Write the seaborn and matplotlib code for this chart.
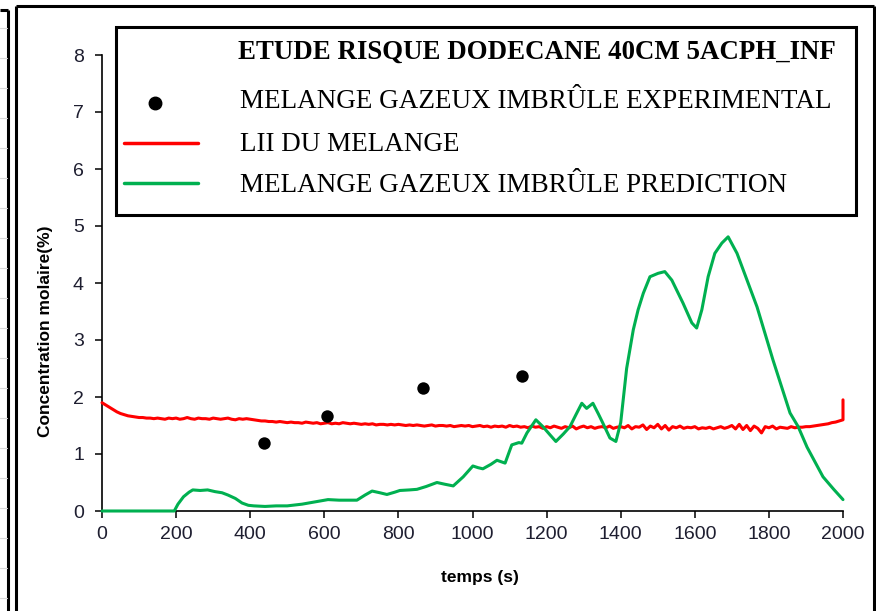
import matplotlib
matplotlib.use("Agg")
import matplotlib.pyplot as plt
from matplotlib.lines import Line2D
from matplotlib.patches import Rectangle
import pandas as pd
import seaborn as sns

# ---- data -------------------------------------------------------------
# Experimental unburnt gas mixture (time s, molar concentration %)
exp_time = [437, 607, 866, 1133]
exp_conc = [1.19, 1.67, 2.16, 2.37]

# Lower inflammability limit of the mixture, sampled every 10 s (+ end jump)
lii_time = list(range(0, 2001, 10)) + [2000]
lii_conc = [
    1.90, 1.86, 1.82, 1.78, 1.74, 1.71, 1.69, 1.67, 1.66, 1.65,
    1.64, 1.64, 1.63, 1.63, 1.62, 1.63, 1.62, 1.61, 1.63, 1.62,
    1.63, 1.61, 1.62, 1.64, 1.62, 1.61, 1.63, 1.62, 1.62, 1.61,
    1.63, 1.62, 1.61, 1.62, 1.63, 1.61, 1.60, 1.62, 1.61, 1.62,
    1.61, 1.60, 1.59, 1.58, 1.58, 1.57, 1.57, 1.56, 1.57, 1.56,
    1.55, 1.56, 1.55, 1.55, 1.54, 1.56, 1.55, 1.54, 1.55, 1.53,
    1.54, 1.55, 1.53, 1.54, 1.53, 1.55, 1.54, 1.53, 1.54, 1.53,
    1.52, 1.53, 1.52, 1.53, 1.51, 1.52, 1.52, 1.51, 1.52, 1.51,
    1.52, 1.51, 1.50, 1.51, 1.50, 1.51, 1.50, 1.49, 1.50, 1.51,
    1.49, 1.50, 1.50, 1.49, 1.50, 1.48, 1.49, 1.50, 1.49, 1.50,
    1.48, 1.49, 1.50, 1.48, 1.49, 1.47, 1.49, 1.48, 1.49, 1.47,
    1.50, 1.48, 1.49, 1.47, 1.48, 1.46, 1.49, 1.47, 1.48, 1.45,
    1.48, 1.46, 1.49, 1.47, 1.45, 1.48, 1.46, 1.49, 1.44, 1.47,
    1.49, 1.46, 1.48, 1.45, 1.47, 1.48, 1.46, 1.49, 1.45, 1.47,
    1.48, 1.46, 1.50, 1.44, 1.48, 1.47, 1.51, 1.43, 1.49, 1.46,
    1.52, 1.44, 1.50, 1.42, 1.48, 1.46, 1.49, 1.45, 1.47, 1.46,
    1.48, 1.44, 1.46, 1.45, 1.47, 1.44, 1.46, 1.48, 1.45, 1.47,
    1.50, 1.44, 1.52, 1.43, 1.50, 1.41, 1.49, 1.45, 1.37, 1.48,
    1.46, 1.49, 1.44, 1.47, 1.46, 1.45, 1.48, 1.46, 1.47, 1.47,
    1.48, 1.48, 1.49, 1.50, 1.51, 1.52, 1.53, 1.55, 1.56, 1.58,
    1.60, 1.95,
]

# Predicted unburnt gas mixture
pred_time = [
    0, 195, 205, 220, 235, 245, 265, 285, 305, 324,
    340, 360, 378, 395, 410, 440, 470, 500, 540, 575,
    610, 640, 670, 688, 710, 729, 750, 769, 790, 804,
    830, 850, 875, 904, 925, 948, 975, 1001, 1015, 1028,
    1050, 1066, 1088, 1106, 1125, 1133, 1147, 1171, 1190, 1210,
    1225, 1245, 1263, 1280, 1295, 1308, 1325, 1340, 1352, 1371,
    1387, 1400, 1416, 1434, 1447, 1461, 1479, 1501, 1519, 1538,
    1568, 1592, 1605, 1619, 1636, 1654, 1673, 1690, 1714, 1741,
    1768, 1811, 1857, 1879, 1903, 1946, 1975, 2000,
]
pred_conc = [
    0.00, 0.00, 0.12, 0.25, 0.33, 0.37, 0.36, 0.37, 0.34, 0.32,
    0.28, 0.22, 0.14, 0.10, 0.09, 0.08, 0.09, 0.09, 0.12, 0.16,
    0.20, 0.19, 0.19, 0.19, 0.28, 0.35, 0.32, 0.29, 0.33, 0.36,
    0.37, 0.38, 0.43, 0.50, 0.47, 0.44, 0.60, 0.79, 0.76, 0.74,
    0.82, 0.89, 0.84, 1.16, 1.20, 1.19, 1.37, 1.60, 1.48, 1.33,
    1.22, 1.35, 1.48, 1.70, 1.89, 1.80, 1.89, 1.70, 1.54, 1.28,
    1.22, 1.55, 2.50, 3.18, 3.53, 3.82, 4.11, 4.17, 4.20, 4.05,
    3.65, 3.30, 3.21, 3.53, 4.11, 4.52, 4.70, 4.81, 4.52, 4.05,
    3.58, 2.65, 1.72, 1.48, 1.12, 0.60, 0.38, 0.20,
]

x_ticks = [0, 200, 400, 600, 800, 1000, 1200, 1400, 1600, 1800, 2000]
y_ticks = [0, 1, 2, 3, 4, 5, 6, 7, 8]

legend_title = "ETUDE RISQUE DODECANE 40CM 5ACPH_INF"
label_exp = "MELANGE GAZEUX IMBRÛLE EXPERIMENTAL"
label_lii = "LII DU MELANGE"
label_pred = "MELANGE GAZEUX IMBRÛLE PREDICTION"

RED = "#FF0000"
GREEN = "#00B050"

# ---- figure -----------------------------------------------------------
sns.set_theme(style="white")
plt.rcParams["font.family"] = ["Liberation Sans", "DejaVu Sans"]

W, H = 876, 611
fig = plt.figure(figsize=(W / 100, H / 100), dpi=100)
fig.patch.set_facecolor("white")


def fx(px):
    return px / W


def fy(py):
    return 1 - py / H


ax = fig.add_axes([fx(102), fy(511), fx(843) - fx(102), fy(55) - fy(511)])
ax.set_facecolor("white")

lii_df = pd.DataFrame({"t": lii_time, "c": lii_conc})
pred_df = pd.DataFrame({"t": pred_time, "c": pred_conc})
exp_df = pd.DataFrame({"t": exp_time, "c": exp_conc})

sns.lineplot(data=lii_df, x="t", y="c", ax=ax, color=RED, lw=2.2,
             estimator=None, sort=False, zorder=3)
sns.lineplot(data=pred_df, x="t", y="c", ax=ax, color=GREEN, lw=2.2,
             estimator=None, sort=False, zorder=4)
sns.scatterplot(data=exp_df, x="t", y="c", ax=ax, color="black", s=80,
                edgecolor="black", linewidth=0, zorder=5)
for ln in ax.lines:
    ln.set_clip_on(False)

ax.set_xlim(0, 2000)
ax.set_ylim(0, 8)
ax.set_xticks(x_ticks)
ax.set_yticks(y_ticks)
ax.set_xticklabels([str(v) for v in x_ticks])
ax.set_yticklabels([str(v) for v in y_ticks])

for side in ("top", "right"):
    ax.spines[side].set_visible(False)
for side in ("left", "bottom"):
    ax.spines[side].set_color("black")
    ax.spines[side].set_linewidth(1.2)

ax.tick_params(axis="both", direction="out", length=5, width=1.1,
               color="black", labelsize=14, labelcolor="#1e1e30",
               left=True, bottom=True)
ax.tick_params(axis="y", pad=8)
ax.tick_params(axis="x", pad=6)

ax.set_xlabel("temps (s)", fontsize=12.5, fontweight="bold", color="black")
ax.set_ylabel("Concentration molaire(%)", fontsize=12.5, fontweight="bold",
              color="black")
ax.xaxis.set_label_coords((480 - 102) / 741, (511 - 570) / 456)
ax.yaxis.set_label_coords((53 - 102) / 741, (511 - 331) / 456)

# ---- legend box -------------------------------------------------------
serif = ["Liberation Serif", "DejaVu Serif"]
fig.add_artist(Rectangle((fx(116), fy(215)), fx(856) - fx(116),
                         fy(27) - fy(215), transform=fig.transFigure,
                         fill=False, ec="black", lw=2.2, zorder=10))
fig.text(fx(238), fy(52), legend_title, ha="left", va="center",
         family=serif, fontweight="bold", fontsize=19.4, color="black")
fig.add_artist(Line2D([fx(155)], [fy(103)], marker="o", markersize=9,
                      color="black", ls="none", transform=fig.transFigure))
fig.text(fx(240), fy(101), label_exp, ha="left", va="center",
         family=serif, fontsize=19.5, color="black")
fig.add_artist(Line2D([fx(124), fx(198)], [fy(143), fy(143)], color=RED,
                      lw=2.5, transform=fig.transFigure))
fig.text(fx(240), fy(145), label_lii, ha="left", va="center",
         family=serif, fontsize=19.5, color="black")
fig.add_artist(Line2D([fx(124), fx(198)], [fy(183), fy(183)], color=GREEN,
                      lw=2.5, transform=fig.transFigure))
fig.text(fx(240), fy(185), label_pred, ha="left", va="center",
         family=serif, fontsize=19.5, color="black")

# ---- chart frames -----------------------------------------------------
frame_kw = dict(color="black", lw=2.2, transform=fig.transFigure,
                solid_capstyle="butt")
fig.add_artist(Line2D([fx(16), fx(16)], [fy(6), fy(615)], **frame_kw))
fig.add_artist(Line2D([fx(874), fx(874)], [fy(6), fy(615)], **frame_kw))
fig.add_artist(Line2D([fx(16), fx(874)], [fy(6), fy(6)], **frame_kw))
fig.add_artist(Line2D([fx(8), fx(8)], [fy(10), fy(615)], **frame_kw))
fig.add_artist(Line2D([fx(0), fx(8)], [fy(10), fy(10)], **frame_kw))
for gy in range(28, 611, 30):
    fig.add_artist(Line2D([fx(0), fx(7)], [fy(gy), fy(gy)], color="#d8d8d8",
                          lw=0.8, transform=fig.transFigure))

fig.savefig("out.png", dpi=100, facecolor="white")
